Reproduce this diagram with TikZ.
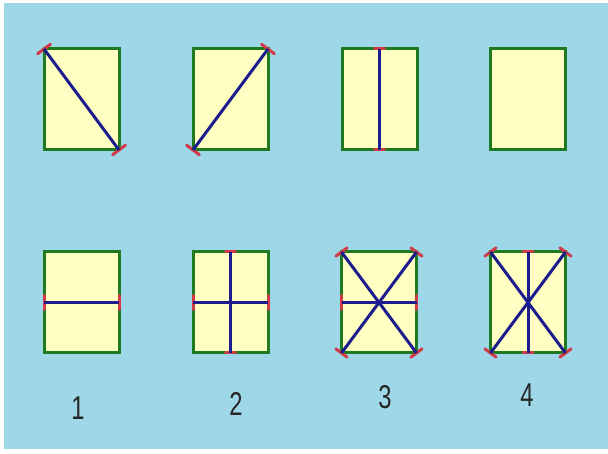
\documentclass[tikz,border=0pt]{standalone}
\usepackage{fontspec}
\setmainfont{Liberation Sans}
\usepackage{tikz}
\usetikzlibrary{calc}
\definecolor{sky}{HTML}{9ED8E8}
\definecolor{edgegreen}{HTML}{1F7A22}
\definecolor{cellyellow}{HTML}{FFFFC2}
\definecolor{cutblue}{HTML}{1C1C8E}
\definecolor{tickred}{HTML}{D23A48}
\tikzset{
  cell/.style={
    rectangle, draw=edgegreen, fill=cellyellow, line width=3pt,
    minimum width=75pt, minimum height=101pt,
    inner sep=0pt, outer sep=0pt,
  },
  cut/.style={draw=cutblue, line width=3pt},
  tickmark/.style={draw=tickred, line width=3pt, line cap=round},
  num/.style={font=\fontsize{33}{36}\selectfont, xscale=0.72, text=black!85},
}
% red tick at (#1), across the line towards (#2)
\newcommand{\cuttick}[3]{%
  \draw[tickmark] ($(#1)!#3!90:(#2)$) -- ($(#1)!#3!-90:(#2)$);}

\begin{document}
\begin{tikzpicture}[x=1pt, y=-1pt]

  \useasboundingbox (0,0) rectangle (608,454);
  \fill[white] (0,0) rectangle (608,454);
  \fill[sky] (4,3) rectangle (608,449);

  % top row
  \node[cell] (a1) at (81.5,99.5) {};
  \node[cell] (a2) at (230.5,99.5) {};
  \node[cell] (a3) at (379.5,99.5) {};
  \node[cell] (a4) at (527.5,99.5) {};

  % bottom row
  \node[cell] (b1) at (81.5,302.5) {};
  \node[cell] (b2) at (230.5,302.5) {};
  \node[cell] (b3) at (379,302.5) {};
  \node[cell] (b4) at (528,302.5) {};

  % labels
  \node[num] (n1) at (78,408) {1};
  \node[num] (n2) at (236,404) {2};
  \node[num] (n3) at (385,397) {3};
  \node[num] (n4) at (527,395) {4};

  % ticks
  \cuttick{a1.north west}{a1.south east}{8pt}
  \cuttick{a1.south east}{a1.north west}{8pt}
  \cuttick{a2.north east}{a2.south west}{8pt}
  \cuttick{a2.south west}{a2.north east}{8pt}
  \cuttick{a3.north}{a3.south}{5pt}
  \cuttick{a3.south}{a3.north}{5pt}

  \cuttick{b1.west}{b1.east}{7pt}
  \cuttick{b1.east}{b1.west}{7pt}
  \cuttick{b2.west}{b2.east}{7pt}
  \cuttick{b2.east}{b2.west}{7pt}
  \cuttick{b2.north}{b2.south}{5pt}
  \cuttick{b2.south}{b2.north}{5pt}

  \cuttick{b3.west}{b3.east}{7pt}
  \cuttick{b3.east}{b3.west}{7pt}
  \cuttick{b3.north west}{b3.south east}{7pt}
  \cuttick{b3.south east}{b3.north west}{7pt}
  \cuttick{b3.north east}{b3.south west}{7pt}
  \cuttick{b3.south west}{b3.north east}{7pt}

  \cuttick{b4.north}{b4.south}{5pt}
  \cuttick{b4.south}{b4.north}{5pt}
  \cuttick{b4.north west}{b4.south east}{7pt}
  \cuttick{b4.south east}{b4.north west}{7pt}
  \cuttick{b4.north east}{b4.south west}{7pt}
  \cuttick{b4.south west}{b4.north east}{7pt}

  % cuts
  \draw[cut] (a1.north west) -- (a1.south east);
  \draw[cut] (a2.north east) -- (a2.south west);
  \draw[cut] (a3.north) -- (a3.south);

  \draw[cut] (b1.west) -- (b1.east);
  \draw[cut] (b2.west) -- (b2.east);
  \draw[cut] (b2.north) -- (b2.south);
  \draw[cut] (b3.west) -- (b3.east);
  \draw[cut] (b3.north west) -- (b3.south east);
  \draw[cut] (b3.north east) -- (b3.south west);
  \draw[cut] (b4.north) -- (b4.south);
  \draw[cut] (b4.north west) -- (b4.south east);
  \draw[cut] (b4.north east) -- (b4.south west);

\end{tikzpicture}
\end{document}
